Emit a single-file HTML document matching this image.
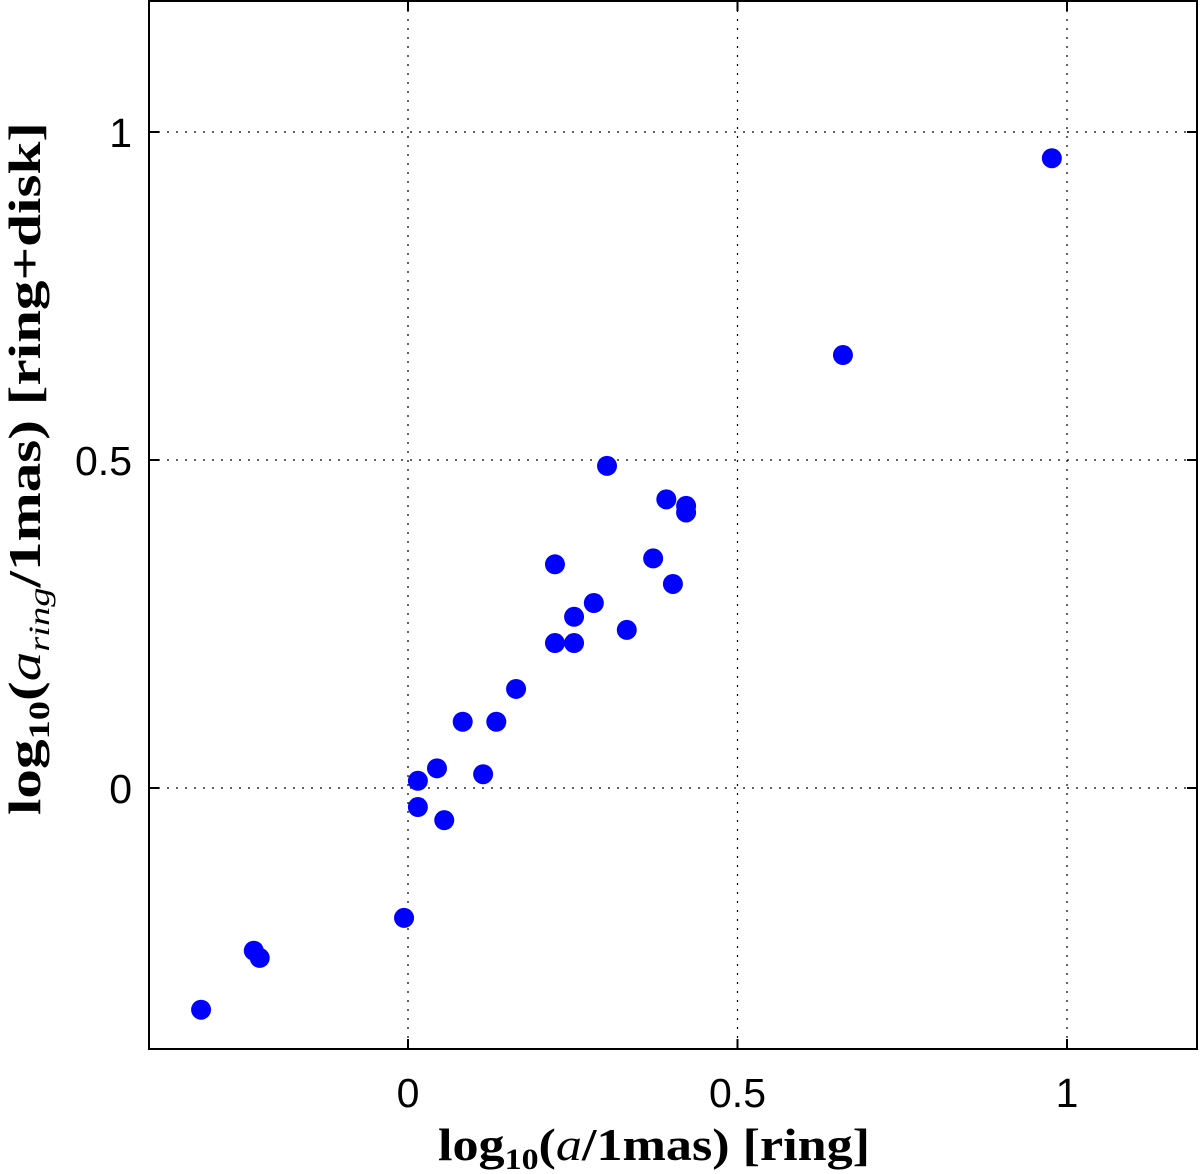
<!DOCTYPE html>
<html><head><meta charset="utf-8"><style>
html,body{margin:0;padding:0;background:#fff}
svg{display:block}
.tick{font-family:"Liberation Sans",sans-serif;font-size:41px;fill:#000}
.ttl{font-family:"Liberation Serif",serif;font-size:46px;font-weight:bold;fill:#000}
</style></head><body>
<svg id="chart" width="1200" height="1174" viewBox="0 0 1200 1174" xmlns="http://www.w3.org/2000/svg">
<g id="grid"></g>
<g id="ticks"></g>
<g id="points"></g>
<rect x="149" y="1" width="1048" height="1048" fill="none" stroke="#000" stroke-width="2"/>
<text class="ttl" x="438" y="1160" textLength="432" lengthAdjust="spacingAndGlyphs">log<tspan font-size="30" dy="9">10</tspan><tspan dy="-9">(<tspan font-style="italic" font-weight="normal">a</tspan>/1mas) [ring]</tspan></text>
<text class="ttl" transform="translate(40,815) rotate(-90)" textLength="693" lengthAdjust="spacingAndGlyphs">log<tspan font-size="30" dy="9">10</tspan><tspan dy="-9">(<tspan font-style="italic" font-weight="normal">a</tspan></tspan><tspan font-size="30" font-style="italic" font-weight="normal" dy="9">ring</tspan><tspan dy="-9">/1mas) [ring+disk]</tspan></text>
</svg>
<script>
const xs = [0.977,0.66,0.302,0.392,0.422,0.422,0.223,0.372,0.402,0.282,0.252,0.332,0.223,0.252,0.164,0.083,0.134,0.044,0.015,0.114,0.015,0.055,-0.006,-0.234,-0.225,-0.314];
const ys = [0.96,0.66,0.491,0.44,0.43,0.42,0.341,0.35,0.311,0.282,0.261,0.241,0.221,0.221,0.151,0.101,0.101,0.030,0.011,0.021,-0.029,-0.049,-0.198,-0.248,-0.259,-0.338];
const xTicks = [0,0.5,1];
const yTicks = [0,0.5,1];
const xTickLabels = ["0","0.5","1"];
const yTickLabels = ["0","0.5","1"];
const L=149,R=1197,T=1,B=1049;
const X = v => 408 + v*659;
const Y = v => 788 - v*656;
const NS="http://www.w3.org/2000/svg";
const grid=document.getElementById('grid'),ticks=document.getElementById('ticks'),pts=document.getElementById('points');
function mk(tag,attrs,parent){const e=document.createElementNS(NS,tag);for(const k in attrs)e.setAttribute(k,attrs[k]);parent.appendChild(e);return e;}
xTicks.forEach((t,i)=>{
  const x=X(t);
  const g=mk('line',{x1:x,x2:x,y1:T,y2:B,stroke:'#000','stroke-width':1.2,'stroke-dasharray':'2 7'},grid);
  
  
  const a=mk('line',{x1:x,x2:x,y1:B,y2:B-10,stroke:'#000','stroke-width':2},ticks);
  
  
  const b=mk('line',{x1:x,x2:x,y1:T,y2:T+10,stroke:'#000','stroke-width':2},ticks);
  
  
  const tx=mk('text',{x:x,y:1107,'text-anchor':'middle','class':'tick'},ticks);
  tx.textContent=xTickLabels[i];
  
  
});
yTicks.forEach((t,i)=>{
  const y=Y(t);
  const g=mk('line',{x1:L,x2:R,y1:y,y2:y,stroke:'#000','stroke-width':1.2,'stroke-dasharray':'2 7'},grid);
  
  
  const a=mk('line',{x1:L,x2:L+10,y1:y,y2:y,stroke:'#000','stroke-width':2},ticks);
  
  
  const b=mk('line',{x1:R,x2:R-10,y1:y,y2:y,stroke:'#000','stroke-width':2},ticks);
  
  
  const tx=mk('text',{x:132,y:y+15,'text-anchor':'end','class':'tick'},ticks);
  tx.textContent=yTickLabels[i];
  
  
});
xs.forEach((v,i)=>{
  const c=mk('circle',{cx:X(v),cy:Y(ys[i]),r:10,fill:'#0000ff'},pts);
  
  
});
</script>
</body></html>
